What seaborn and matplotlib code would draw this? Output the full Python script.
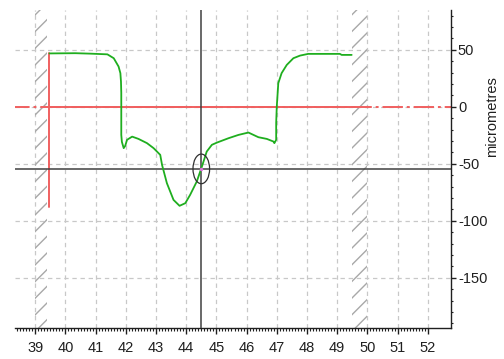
import numpy as np
import pandas as pd
import matplotlib
matplotlib.use('Agg')
import matplotlib.pyplot as plt
import matplotlib.ticker as mticker
from matplotlib.patches import Ellipse
import seaborn as sns

# profile data (position vs height)
pos = [39.47, 40.33, 40.83, 41.39, 41.60, 41.76, 41.82, 41.84, 41.85, 41.85,
       41.87, 41.93, 41.98, 42.04, 42.21, 42.42, 42.70, 42.92, 43.14, 43.20,
       43.36, 43.58, 43.78, 43.97, 44.13, 44.35, 44.52, 44.68, 44.85, 45.02,
       45.40, 45.73, 46.06, 46.39, 46.67, 46.89, 46.92, 46.98, 46.98, 47.00,
       47.05, 47.16, 47.33, 47.55, 47.77, 48.04, 49.09, 49.15, 49.48]
height = [46.9, 47.1, 46.7, 46.1, 42.7, 35.4, 29.6, 22.2, 12.3, -24.6,
          -30.7, -36.2, -34.2, -28.9, -26.1, -28.1, -31.8, -36.2, -42.1, -50.9,
          -66.9, -81.6, -86.8, -84.5, -77.2, -65.5, -52.4, -39.2, -33.3, -31.3,
          -27.5, -24.6, -22.5, -26.6, -28.1, -30.4, -31.8, -28.9, -14.0, 0.3,
          20.8, 29.6, 36.8, 42.7, 45.0, 46.5, 46.5, 45.6, 45.6]

# reference line / markers
ref_x = [39.47, 49.6]
ref_vert_y = [46.9, -88.0]
zero_level = 0
cursor_x = 44.5
cursor_y = -54.4
ellipse_w, ellipse_h = 0.55, 26
bands = [(39.0, 39.4), (49.48, 50.0)]

xticks = list(range(39, 53))
yticks = [50, 0, -50, -100, -150]

sns.set_style('white')
plt.rcParams['font.family'] = ['Liberation Sans', 'DejaVu Sans']
plt.rcParams['hatch.linewidth'] = 1.0

df = pd.DataFrame({'pos': pos, 'height': height})

fig = plt.figure(figsize=(5.04, 3.59), dpi=100)
ax = fig.add_axes([15 / 504, 1 - 328 / 359, 436 / 504, 318 / 359])
ax.set_xlim(38.33, 52.77)
ax.set_ylim(-194, 85)

# grid
ax.xaxis.set_major_locator(mticker.FixedLocator(xticks))
ax.yaxis.set_major_locator(mticker.FixedLocator(yticks))
ax.grid(True, which='major', color='#c8c8c8', linestyle=(0, (3.5, 3)), lw=0.9)
ax.set_axisbelow(True)

# hatched bands
for b0, b1 in bands:
    ax.axvspan(b0, b1, fill=False, hatch='//', edgecolor='#a8a8a8', lw=0, zorder=1)

# zero reference
ax.axhline(zero_level, color='#f06060', lw=1.4, linestyle=(3.0, (10.5, 2.0, 1.5, 2.0)), zorder=2)
ax.plot(ref_x, [zero_level, zero_level], color='#f06060', lw=1.4, zorder=3)
ax.plot([ref_x[0], ref_x[0]], ref_vert_y, color='#f06060', lw=1.4, zorder=3)

# cursor lines
ax.axhline(cursor_y, color='#404040', lw=1.1, zorder=3)
ax.axvline(cursor_x, color='#404040', lw=1.1, zorder=3)

# profile
sns.lineplot(data=df, x='pos', y='height', sort=False, estimator=None,
             color='#1fae1f', lw=1.3, ax=ax, zorder=4)

ax.add_patch(Ellipse((cursor_x, cursor_y), ellipse_w, ellipse_h, fill=False,
                     edgecolor='#303030', lw=0.9, zorder=5))
ax.plot(cursor_x, cursor_y, 'o', ms=2.5, color='#e070e0', mec='none', zorder=6)

# axes styling
for s in ['top', 'left']:
    ax.spines[s].set_visible(False)
for s in ['bottom', 'right']:
    ax.spines[s].set_color('#202020')
    ax.spines[s].set_linewidth(1.0)

ax.xaxis.set_minor_locator(mticker.FixedLocator(np.arange(38.4, 52.01, 0.1)))
ax.yaxis.set_minor_locator(mticker.FixedLocator(np.arange(-190, 81, 10)))
ax.yaxis.tick_right()
ax.yaxis.set_label_position('right')
ax.tick_params(axis='x', which='major', direction='out', length=4.5, width=1,
               color='#202020', pad=5, labelsize=10.5, labelcolor='#202020',
               bottom=True, top=False)
ax.tick_params(axis='x', which='minor', direction='out', length=2.5, width=0.8,
               color='#202020', bottom=True, top=False)
ax.tick_params(axis='y', which='major', direction='out', length=3.5, width=1,
               color='#202020', pad=1.5, labelsize=10.5, labelcolor='#202020',
               right=True, left=False)
ax.tick_params(axis='y', which='minor', direction='out', length=1.5, width=0.8,
               color='#202020', right=True, left=False)
ax.set_xticklabels([str(t) for t in xticks])
ax.set_yticklabels([str(t) for t in yticks])

ax.set_xlabel('')
ax.set_ylabel('micrometres', fontsize=10.5, color='#202020')
ax.yaxis.set_label_coords(1.077, 0.664)

fig.savefig('out.png', dpi=100)
